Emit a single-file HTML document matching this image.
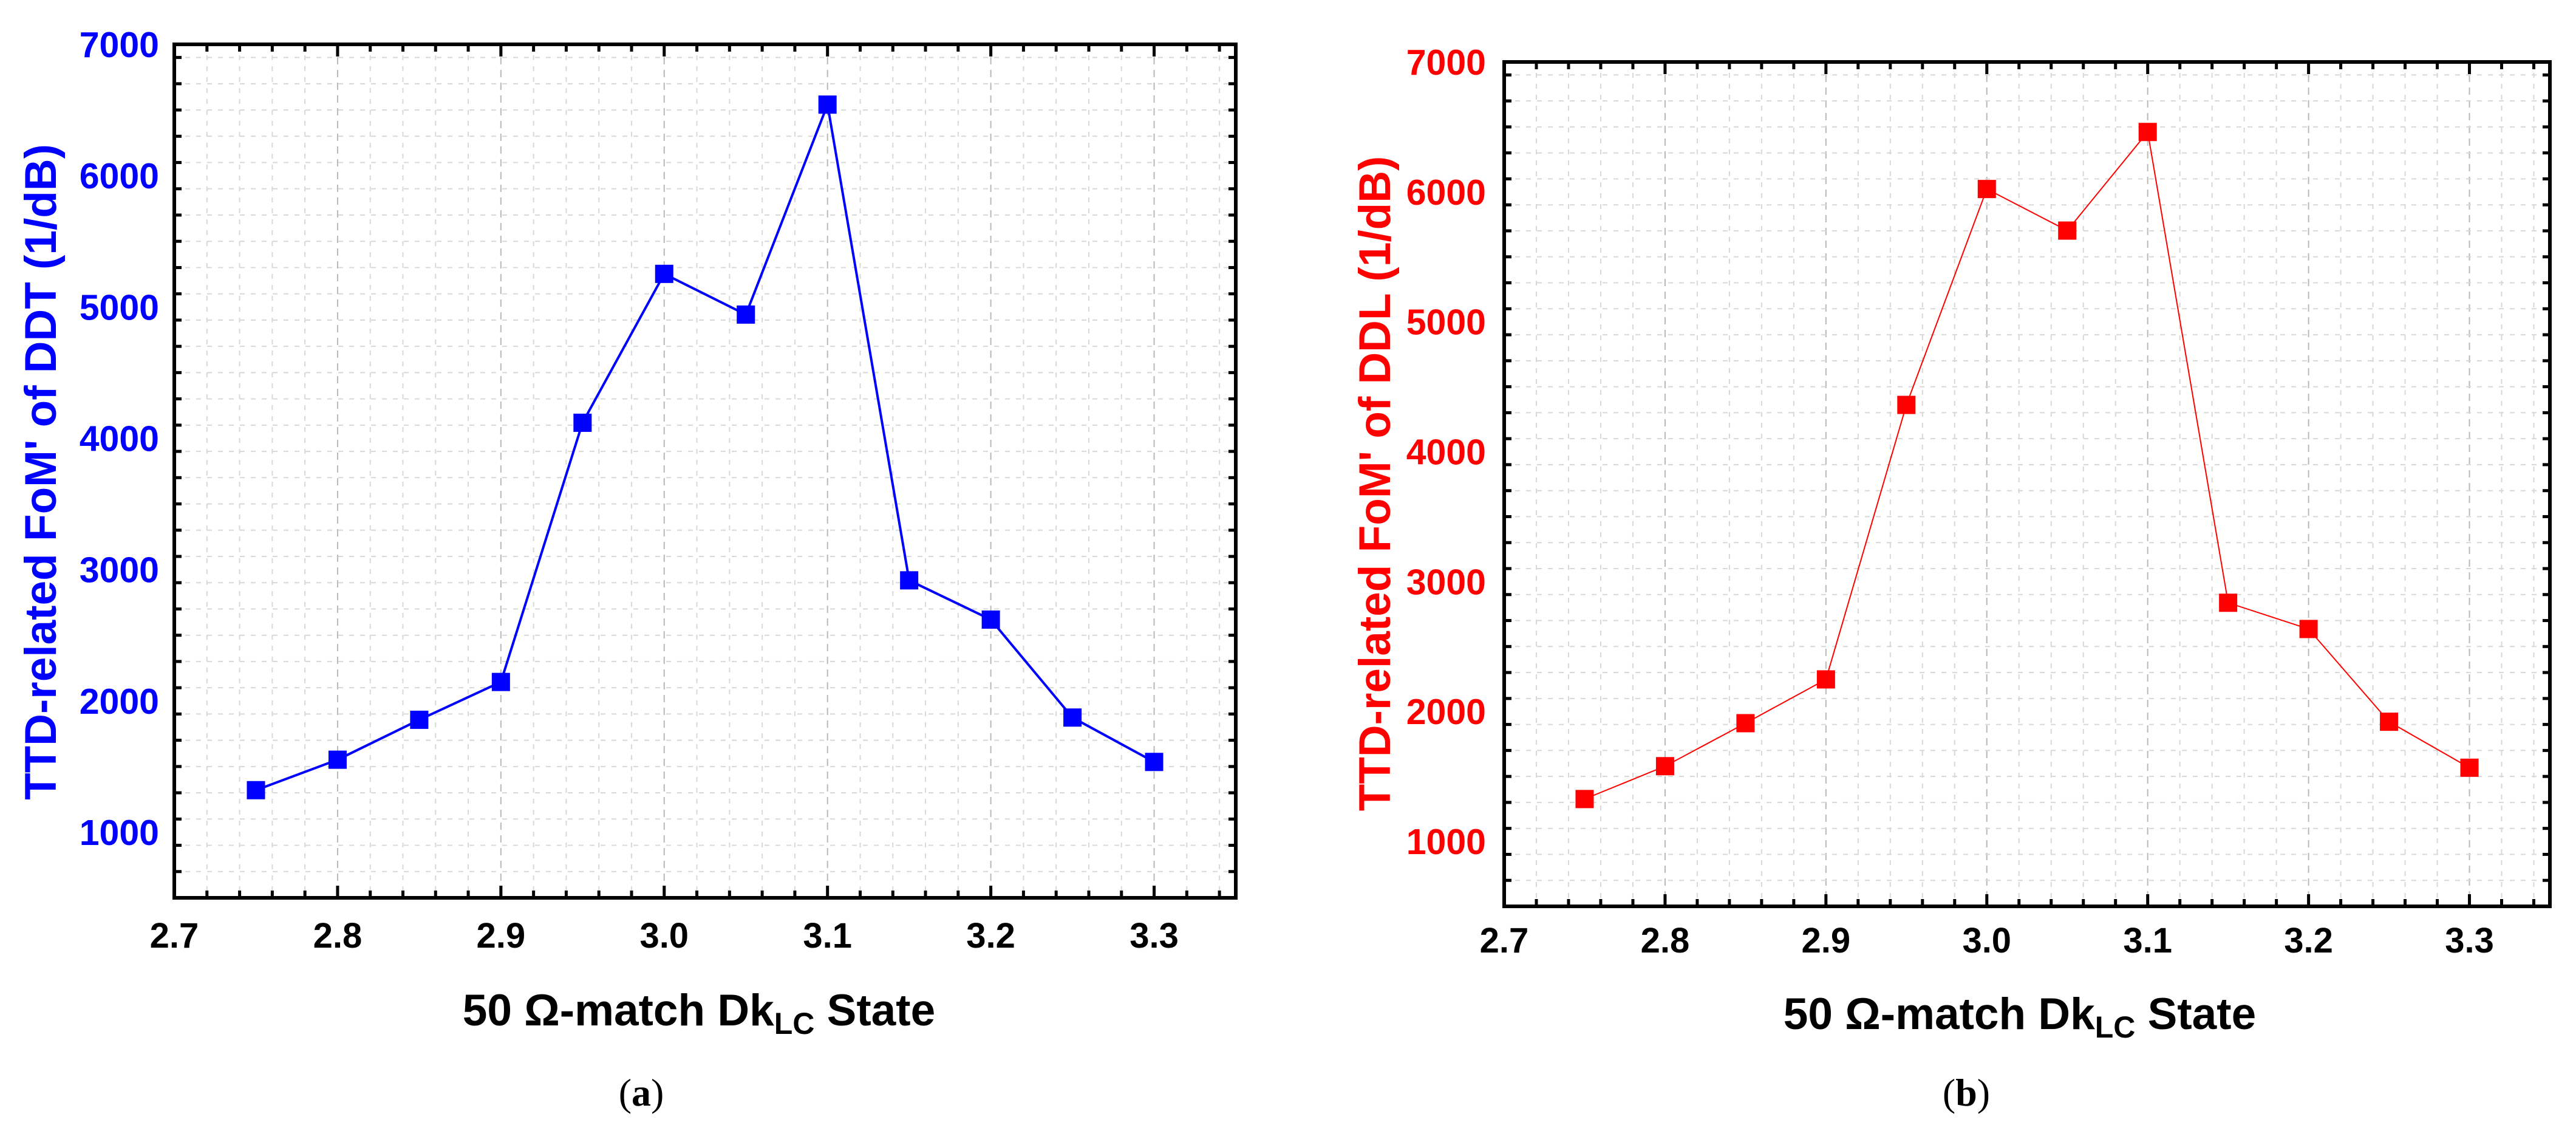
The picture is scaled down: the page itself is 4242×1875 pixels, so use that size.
<!DOCTYPE html>
<html><head><meta charset="utf-8"><style>
html,body{margin:0;padding:0;background:#fff;width:4242px;height:1875px;overflow:hidden}
svg{display:block}
</style></head><body>
<svg id="c" width="4242" height="1875" xmlns="http://www.w3.org/2000/svg" font-family="Liberation Sans, Arial, sans-serif"></svg>
<script>
const xCats = [2.75, 2.80, 2.85, 2.90, 2.95, 3.00, 3.05, 3.10, 3.15, 3.20, 3.25, 3.30];
const ddtValues = [1320, 1552, 1856, 2144, 4118, 5252, 4942, 6541, 2918, 2619, 1873, 1535];
const ddlValues = [1326, 1579, 1910, 2247, 4360, 6022, 5702, 6461, 2837, 2635, 1921, 1567];
const xTickLabels = ["2.7", "2.8", "2.9", "3.0", "3.1", "3.2", "3.3"];
const yTickLabels = ["1000", "2000", "3000", "4000", "5000", "6000", "7000"];

const NS = "http://www.w3.org/2000/svg";
const svg = document.getElementById('c');
function mk(tag, attrs, parent) {
  const e = document.createElementNS(NS, tag);
  for (const k in attrs) e.setAttribute(k, attrs[k]);
  (parent || svg).appendChild(e);
  return e;
}

function panel(cfg) {
  const g = mk('g', {});
  
  
  const L = cfg.L, R = cfg.R, T = cfg.T, B = cfg.B;
  const xs = v => L + (v - 2.7) / 0.65 * (R - L);
  const ys = v => B - (v - 500) / 6500 * (B - T);
  const grid = mk('g', {}, g);
  
  
  for (let i = 1; i < 33; i++) {
    const v = 2.7 + i * 0.02;
    const major = i % 5 === 0;
    mk('line', {x1: xs(v), x2: xs(v), y1: T, y2: B, stroke: major ? '#b8b8b8' : '#d8d8d8', 'stroke-width': 2, 'stroke-dasharray': major ? '12,9' : '8,10'}, grid);
  }
  for (let i = 1; i < 33; i++) {
    const v = 500 + i * 200;
    const major = (v % 1000) === 0;
    mk('line', {x1: L, x2: R, y1: ys(v), y2: ys(v), stroke: major ? '#b8b8b8' : '#d8d8d8', 'stroke-width': 2, 'stroke-dasharray': major ? '12,9' : '8,10'}, grid);
  }
  for (let i = 1; i < 33; i++) {
    const v = 2.7 + i * 0.02;
    const len = (i % 5 === 0) ? 20 : 12;
    mk('line', {x1: xs(v), x2: xs(v), y1: B, y2: B - len, stroke: '#000', 'stroke-width': 5}, g);
    mk('line', {x1: xs(v), x2: xs(v), y1: T, y2: T + len, stroke: '#000', 'stroke-width': 5}, g);
  }
  for (let i = 1; i < 33; i++) {
    const v = 500 + i * 200;
    const len = (v % 1000 === 0) ? 20 : 12;
    mk('line', {x1: L, x2: L + len, y1: ys(v), y2: ys(v), stroke: '#000', 'stroke-width': 5}, g);
    mk('line', {x1: R, x2: R - len, y1: ys(v), y2: ys(v), stroke: '#000', 'stroke-width': 5}, g);
  }
  const frame = mk('rect', {x: L, y: T, width: R - L, height: B - T, fill: 'none', stroke: '#000', 'stroke-width': 6}, g);
  
  
  xTickLabels.forEach(s => {
    const t = mk('text', {x: xs(parseFloat(s)), y: cfg.xLabY, 'text-anchor': 'middle', 'font-size': 58, 'font-weight': 'bold', fill: '#000'}, g);
    t.textContent = s;
    
    
  });
  yTickLabels.forEach(s => {
    const t = mk('text', {x: cfg.yLabX, y: ys(parseFloat(s)) + 21, 'text-anchor': 'end', 'font-size': 59, 'font-weight': 'bold', fill: cfg.color}, g);
    t.textContent = s;
    
    
  });
  const pts = xCats.map((x, i) => xs(x) + ',' + ys(cfg.values[i])).join(' ');
  const pl = mk('polyline', {points: pts, fill: 'none', stroke: cfg.color, 'stroke-width': cfg.lw}, g);
  
  
  xCats.forEach((x, i) => {
    const r = mk('rect', {x: xs(x) - 15, y: ys(cfg.values[i]) - 15, width: 30, height: 30, fill: cfg.color}, g);
    
    
  });
  const xt = mk('text', {x: cfg.xTitleX, y: cfg.xTitleY, 'text-anchor': 'middle', 'font-size': 73, 'font-weight': 'bold', fill: '#000'}, g);
  xt.innerHTML = '50 \u03A9-match Dk<tspan font-size="50" dy="14">LC</tspan><tspan dy="-14"> State</tspan>';
  
  
  const yt = mk('text', {x: 0, y: 0, transform: 'translate(' + cfg.yTitleX + ',' + cfg.yTitleY + ') rotate(-90)', 'text-anchor': 'middle', 'font-size': 73, 'font-weight': 'bold', fill: cfg.color}, g);
  yt.textContent = cfg.yTitle;
  
  
  const cap = mk('text', {x: cfg.capX, y: 1820, 'text-anchor': 'middle', 'font-size': 64, 'font-family': 'Liberation Serif, serif', fill: '#000'}, g);
  cap.innerHTML = '(<tspan font-weight="bold">' + cfg.cap + '</tspan>)';
  
  
}

panel({name: 'chart-a-ddt', L: 287, R: 2035, T: 73, B: 1478, color: '#0000ff', lw: 4, values: ddtValues,
  xLabY: 1560, yLabX: 262, xTitleX: 1151, xTitleY: 1688, yTitleX: 92, yTitleY: 777,
  yTitle: "TTD-related FoM' of DDT (1/dB)", capX: 1056, cap: 'a'});
panel({name: 'chart-b-ddl', L: 2477, R: 4199, T: 102, B: 1492, color: '#ff0000', lw: 2, values: ddlValues,
  xLabY: 1568, yLabX: 2447, xTitleX: 3326, xTitleY: 1694, yTitleX: 2289, yTitleY: 796,
  yTitle: "TTD-related FoM' of DDL (1/dB)", capX: 3238, cap: 'b'});
</script>
</body></html>
